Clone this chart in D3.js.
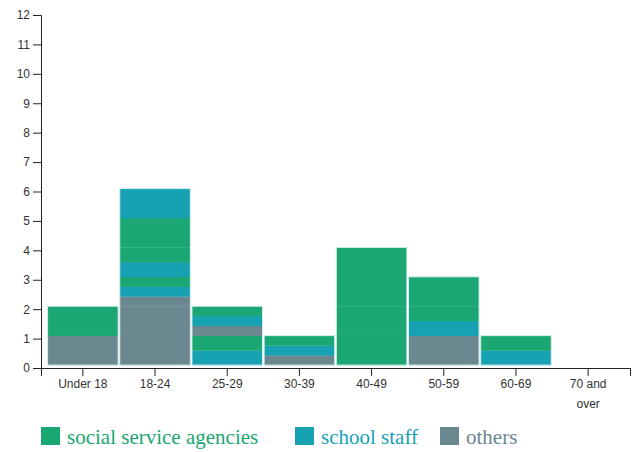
<!DOCTYPE html>
<html>
<head>
<meta charset="utf-8">
<script src="https://cdn.jsdelivr.net/npm/d3@7"></script>
<style>
  html, body { margin: 0; padding: 0; background: #fff; }
  svg { display: block; }
  .axis text { font-family: "Liberation Sans", Arial, sans-serif; font-size: 12px; fill: #333; }
  .axis path, .axis line { stroke: #222; }
  .legend text { font-family: "Liberation Serif", "Times New Roman", serif; font-size: 21px; }
</style>
</head>
<body>
<svg id="chart" width="642" height="452"></svg>
<script>
// Age groups along the x axis
const ageGroups = ["Under 18", "18-24", "25-29", "30-39", "40-49", "50-59", "60-69", "70 and over"];

// Roles, in stacking order from the bottom of each bar
const roles = ["others", "school staff", "social service agencies"];
const roleColors = ["#6b8790", "#17a2b4", "#1ba773"];

// Legend order
const legendRoles = ["social service agencies", "school staff", "others"];

// One entry per respondent: age group and the roles they reported.
// A respondent with several roles is split evenly between them.
const respondentAge = [
  "Under 18", "Under 18",
  "18-24", "18-24", "18-24", "18-24", "18-24", "18-24",
  "25-29", "25-29",
  "30-39",
  "40-49", "40-49", "40-49", "40-49",
  "50-59", "50-59", "50-59",
  "60-69"
];
const respondentRoles = [
  ["others"], ["social service agencies"],
  ["others"], ["others"], ["others", "school staff", "social service agencies"],
  ["school staff", "social service agencies"], ["social service agencies"], ["school staff"],
  ["school staff", "social service agencies"], ["others", "school staff", "social service agencies"],
  ["others", "school staff", "social service agencies"],
  ["social service agencies"], ["social service agencies"], ["social service agencies"], ["social service agencies"],
  ["others"], ["school staff", "social service agencies"], ["social service agencies"],
  ["school staff", "social service agencies"]
];

// Y axis ticks
const yTicks = d3.range(0, 13);

const svg = d3.select("#chart");
const margin = { left: 41, right: 12, top: 15, bottom: 84 };
const width = 642, height = 452;
const baseline = 0.1; // bars sit just above the axis

const x = d3.scaleBand()
  .domain(ageGroups)
  .range([margin.left, width - margin.right])
  .paddingInner(0)
  .paddingOuter(0.08);

const y = d3.scaleLinear()
  .domain([0, 12])
  .range([height - margin.bottom, margin.top]);

const color = d3.scaleOrdinal().domain(roles).range(roleColors);

// Build stacked segments per age group, respondent by respondent
const segments = [];
const totals = new Map(ageGroups.map(g => [g, baseline]));
respondentAge.forEach((age, i) => {
  const rs = respondentRoles[i].slice().sort((a, b) => roles.indexOf(a) - roles.indexOf(b));
  const share = 1 / rs.length;
  rs.forEach(role => {
    const y0 = totals.get(age);
    const y1 = y0 + share;
    segments.push({ age, role, y0, y1 });
    totals.set(age, y1);
  });
});

const barInset = 0.8;

svg.append("g")
  .selectAll("rect")
  .data(segments)
  .join("rect")
  .attr("x", d => x(d.age) + barInset)
  .attr("width", x.bandwidth() - 2 * barInset)
  .attr("y", d => y(d.y1))
  .attr("height", d => y(d.y0) - y(d.y1) + 0.3)
  .attr("fill", d => color(d.role));

// Light outline around each bar
svg.append("g")
  .selectAll("rect")
  .data(ageGroups.filter(g => totals.get(g) > baseline))
  .join("rect")
  .attr("x", g => x(g) + barInset)
  .attr("width", x.bandwidth() - 2 * barInset)
  .attr("y", g => y(totals.get(g)))
  .attr("height", g => y(baseline) - y(totals.get(g)))
  .attr("fill", "none")
  .attr("stroke", "#d8eef0")
  .attr("stroke-width", 1);

// Axes
const xAxis = svg.append("g")
  .attr("class", "axis")
  .attr("transform", `translate(0,${y(0)})`)
  .call(d3.axisBottom(x).tickSize(8).tickPadding(3));

xAxis.selectAll(".tick text").each(function (d) {
  const t = d3.select(this);
  const words = d.split(" ");
  const maxW = x.bandwidth() * 0.8;
  const lines = [];
  let cur = [];
  const probe = t.text("");
  words.forEach(w => {
    cur.push(w);
    probe.text(cur.join(" "));
    if (probe.node().getComputedTextLength() > maxW && cur.length > 1) {
      cur.pop();
      lines.push(cur.join(" "));
      cur = [w];
    }
  });
  lines.push(cur.join(" "));
  t.text(null);
  lines.forEach((ln, i) => {
    t.append("tspan")
      .attr("x", 0)
      .attr("dy", i === 0 ? "0.71em" : "1.72em")
      .text(ln);
  });
});

svg.append("g")
  .attr("class", "axis")
  .attr("transform", `translate(${margin.left},0)`)
  .call(d3.axisLeft(y).tickValues(yTicks).tickFormat(d3.format("d")).tickSize(8).tickPadding(3));

// Legend
const legendX = [41, 295, 440];
const legend = svg.append("g").attr("class", "legend");
legendRoles.forEach((role, i) => {
  const g = legend.append("g").attr("transform", `translate(${legendX[i]},427)`);
  g.append("rect")
    .attr("width", 19)
    .attr("height", 18)
    .attr("fill", color(role));
  g.append("text")
    .attr("x", 26)
    .attr("y", 17)
    .attr("fill", color(role))
    .text(role);
});
</script>
</body>
</html>
